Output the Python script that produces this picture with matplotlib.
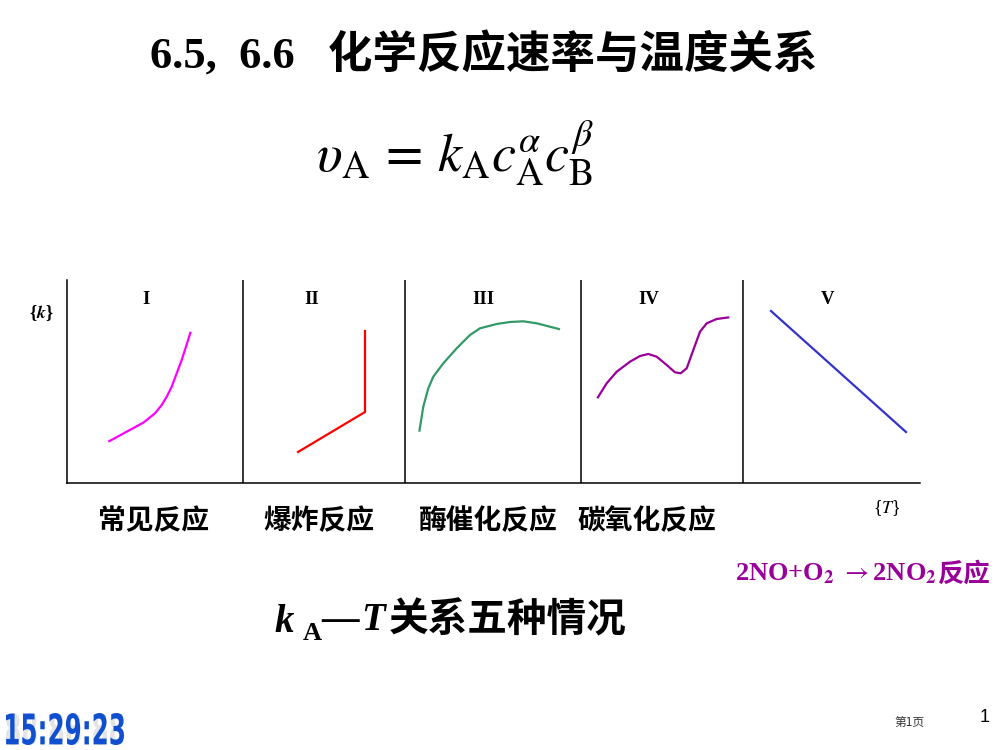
import matplotlib
matplotlib.use('Agg')
import matplotlib.pyplot as plt
from matplotlib.textpath import TextPath
from matplotlib.patches import PathPatch
from matplotlib.transforms import Affine2D, IdentityTransform
from matplotlib.font_manager import FontProperties

plt.rcParams['mathtext.fontset'] = 'stix'

SERIF_CJK = ['Liberation Serif', 'Noto Sans CJK SC']

# panel curves, in axis units (T across, k up)
t_normal = [41.3, 59.7, 76.3, 88, 94.7, 99.7, 104.7, 109.7, 114.7, 119, 123.7]
k_normal = [41.3, 51.3, 60.3, 69.7, 78, 86.3, 96.3, 109.7, 123, 136.3, 151.3]

t_explode = [231, 298, 298]
k_explode = [31, 71, 152]

t_enzyme = [352.3, 356.3, 361.3, 366.3, 376.3, 389.7, 403, 413, 429.7, 443, 456.3, 469.7, 493]
k_enzyme = [51.3, 76.3, 94.7, 106.3, 119.7, 134.7, 148, 154.7, 159, 161, 161.7, 159.7, 153.7]

t_carbon = [530.3, 539.7, 549.7, 563, 573, 581.3, 589.7, 599.7, 608, 613.7, 619.7, 626.3,
            633, 639.7, 649.7, 662.3]
k_carbon = [84.7, 99.7, 111.3, 121.3, 127, 129, 126.3, 118, 110.7, 109.7, 114.7, 133,
            151.3, 159.7, 164, 165.7]

t_no = [704, 839]
k_no = [172, 51]

dividers = [176, 338, 514, 676]
panel_names = ['I', 'II', 'III', 'IV', 'V']
panel_x = [79, 245, 416, 582, 761]
bottom_labels = ['常见反应', '爆炸反应', '酶催化反应', '碳氧化反应']
bottom_x = [153, 319, 488, 647]

fig = plt.figure(figsize=(9.99, 7.5), dpi=100)
W, H = 999, 750

ax = fig.add_axes([67 / W, (H - 483) / H, (920 - 67) / W, (483 - 280) / H])
ax.set_xlim(0, 853)
ax.set_ylim(0, 203)
for s in ['top', 'right']:
    ax.spines[s].set_visible(False)
for s in ['left', 'bottom']:
    ax.spines[s].set_linewidth(1.1)
ax.set_xticks([])
ax.set_yticks([])
for d in dividers:
    ax.axvline(d, color='black', lw=1.1)

style = dict(lw=1.6, solid_joinstyle='round', solid_capstyle='butt')
ax.plot(t_normal, k_normal, color='#FF00FF', **style)
ax.plot(t_explode, k_explode, color='#FF0000', lw=1.6)
ax.plot(t_enzyme, k_enzyme, color='#339966', **style)
ax.plot(t_carbon, k_carbon, color='#990099', **style)
ax.plot(t_no, k_no, color='#3333CC', lw=1.6)

for name, x in zip(panel_names, panel_x):
    ax.text(x, 184, name, ha='center', va='center', fontsize=13.5,
            fontweight='bold', family='Liberation Serif')

def ftext(x, y, s, **kw):
    return fig.text(x / W, 1 - y / H, s, **kw)

# title and formula
ftext(484, 55, '6.5,  6.6   化学反应速率与温度关系', ha='center', va='center',
      fontsize=32, fontweight='bold', family=SERIF_CJK)
ftext(455, 153, r'$\upsilon_{\mathrm{A}}\,=\,k_{\mathrm{A}}c_{\mathrm{A}}^{\alpha}c_{\mathrm{B}}^{\beta}$',
      ha='center', va='center', fontsize=39)

# axis names
ftext(41, 313, r'{$\boldsymbol{k}$}', ha='center', va='center', fontsize=13,
      family='Liberation Serif', fontweight='bold')
ftext(887, 508, r'{$T$}', ha='center', va='center', fontsize=13,
      family='Liberation Serif')

for lab, x in zip(bottom_labels, bottom_x):
    ftext(x, 521, lab, ha='center', va='center', fontsize=20,
          family='Noto Sans CJK SC', fontweight='bold')

t_no2 = ftext(735, 574, r'2NO+O$_\mathbf{2}$ $\rightarrow$2NO$_\mathbf{2}$', ha='left', va='center',
              fontsize=19, fontweight='bold', family='Liberation Serif', color='#990099')
ax.annotate('反应', xy=(1, 0.5), xycoords=t_no2, ha='left', va='center',
            fontsize=19, fontweight='bold', family='Noto Sans CJK SC', color='#990099',
            annotation_clip=False)

# k_A - T caption
ftext(274, 622, 'k', ha='left', va='center', fontsize=28, fontweight='bold',
      style='italic', family='Liberation Serif')
ftext(303, 633, 'A', ha='left', va='center', fontsize=19, fontweight='bold',
      family='Liberation Serif')
ftext(321, 620, '—', ha='left', va='center', fontsize=27, fontweight='bold',
      family='Liberation Serif')
ftext(361, 620, 'T', ha='left', va='center', fontsize=28, fontweight='bold',
      style='italic', family='Liberation Serif')
ftext(389, 620, '关系五种情况', ha='left', va='center', fontsize=28.5, fontweight='bold',
      family='Noto Sans CJK SC')

# clock in the corner, squeezed to a narrow digit shape
fp = FontProperties(family='DejaVu Sans', weight='bold')
for txt, col in [('88:88:88', '#E4E4E4'), ('15:29:23', '#1050D0')]:
    tp = TextPath((0, 0), txt, size=30, prop=fp)
    bb = tp.get_extents()
    tr = (Affine2D().translate(-bb.x0, -bb.y0)
          .scale(118 / bb.width, 32 / bb.height).translate(6, H - 745))
    fig.add_artist(PathPatch(tr.transform_path(tp), facecolor=col, lw=0,
                             transform=IdentityTransform()))

ftext(910, 722, '第1页', ha='center', va='center', fontsize=8.5,
      family='Noto Sans CJK SC', color='#333333')
ftext(985, 717, '1', ha='center', va='center', fontsize=13,
      family='Liberation Sans', color='black')

fig.savefig('out.png', dpi=100)
